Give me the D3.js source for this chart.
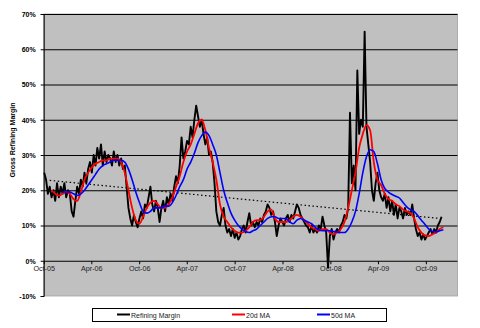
<!DOCTYPE html>
<html><head><meta charset="utf-8">
<script src="https://cdn.jsdelivr.net/npm/d3@7"></script>
<style>
html,body{margin:0;padding:0;background:#fff;}
svg{display:block;font-family:"Liberation Sans",Arial,sans-serif;}
</style></head>
<body>
<svg id="chart" width="480" height="328"></svg>
<script>
// ---- data ----
const marginStart = "2005-10-03";   // weekly observations
const refiningMargin = [
 25,23,19, 21,18,20,17,22,18,21,19,22,18,20, 19,14,12.5, 17,21,19, 23,21,25,22,26,
 28,25,30,27,32, 29,33,27,31,28,30, 29,27,31,28,30,27, 29,26,27, 21,15,12,
 10,13,11,9.5,12, 14,12,16,15,18, 21, 16,14,17,15,11, 15,17,14,18,16, 19,17,21,24,22,
 27,35,29,31,34, 33,38,35,40, 44,41,38, 40,36,33,35,30, 31,28,22, 14,11,10,
 13,15,10,8,9, 7,9,6.5,8,6, 7,9,10,8,11, 13.5,10,11,9.5,11, 10,12,11,13,14,
 16,15,13,14, 11,7,10, 12,11,10,12,13, 11,13,12,14,16, 15,13,12,11,10,
 9.5,8,10,8,9, 8,10,9,12.5,10, 8, -2, 7,9,6,8,9, 8,10,11,13, 12,15, 42, 22,27,20,
 54, 36,40,38, 65, 38,33,28, 20,17,22, 25,20,18, 17,19,15,18,14, 17,13,16,12,15,
 14,12,15,13,14, 13,16,12,9, 7,8,6,7.5,6, 7,8,9,7.5,9, 8,10,11,12.5
];
const ma20Start = "2005-10-31";     // fortnightly readings
const ma20 = [
 20,19,18.5,19,19.5,19,17.5,17,19.5,23,
 25,26.5,27.5,28,28.5,28.5,29,29,29,28,
 25,20,15,11.5,10.5,12.5,15,16.5,17,16,
 15,15,16,18,21,24,28,31,33,36,
 39,40,37,32,28,23,16,12.5,11,9.5,
 8.5,8,8,8.5,9.5,11,11.5,11.5,12.5,14,
 14.5,12,11,11,11,11.5,12.5,13,12.5,11.5,
 10.5,9.5,9,8.5,9,9,8,7.5,8,9,
 11,15,20,25,32,36,38.5,37,28,23,
 21.5,19,17.5,17,16,15.5,14.5,14,13.5,12,
 9.5,8,7.2,7,7.5,8,9,9.5
];
const ma50Start = "2005-12-12";     // fortnightly readings
const ma50 = [
 19.5,19.5,19.5,19,18.5,19,20,21.5,23,24.5,
 26,27,27.5,28,28.5,28.5,28.5,28,26,23,
 19.5,16.5,14,13.5,14,15,15,15,15.5,15.5,
 16.5,18.5,21,23,26,28,30.5,33.5,35.5,36.5,
 35.5,33,30,25,20,16.5,13.5,11.5,10,9,
 8.3,8,8.5,9,10,11,12,12.5,12.5,12,
 12,12,11,10.5,11.5,12,11.5,11,10.5,9.5,
 8.8,8.5,8.6,8.5,8.3,8.2,8,8,9,11,
 14,19,25,29.5,31.5,31,27.5,23,20.5,19.5,
 18.8,18.3,17.8,16.5,15.3,14.5,14,12.8,11.5,10.3,
 9,8.3,8.2,8.5,8.8
];
const trendDates = ["2005-10-24","2009-11-23"];
const trendValues = [22.8, 12.0];
const xTickDates = ["2005-10-01","2006-04-01","2006-10-01","2007-04-01","2007-10-01","2008-04-01","2008-10-01","2009-04-01","2009-10-01"];
const yTicks = [-10,0,10,20,30,40,50,60,70];
const seriesNames = ["Refining Margin","20d MA","50d MA"];
const seriesColors = ["#000000","#ff0000","#0000ff"];
const yTitle = "Gross Refining Margin";

// ---- build ----
const parse = d3.timeParse("%Y-%m-%d");
function weekly(start, arr, stepDays){
  const s = parse(start);
  return arr.map((v,i)=>({date:d3.timeDay.offset(s, i*stepDays), v}));
}
const dMargin = weekly(marginStart, refiningMargin, 7);
const d20 = weekly(ma20Start, ma20, 14);
const d50 = weekly(ma50Start, ma50, 14);
const dTrend = trendDates.map((d,i)=>({date:parse(d), v:trendValues[i]}));

const L=43.7, R=457.5, T=14, B=296;
const svg = d3.select("#chart");
const x = d3.scaleTime().domain([parse("2005-10-01"), parse("2010-01-30")]).range([L,R]);
const y = d3.scaleLinear().domain([-10,70]).range([B,T]);

svg.append("rect").attr("x",L).attr("y",T).attr("width",R-L).attr("height",B-T)
  .attr("fill","#c0c0c0").attr("stroke","#a0a0a0").attr("stroke-width",0.8);

// gridlines
svg.append("g").selectAll("line").data(yTicks.filter(t=>t>-10)).join("line")
  .attr("x1",L).attr("x2",R).attr("y1",d=>y(d)+0.5).attr("y2",d=>y(d)+0.5)
  .attr("stroke","#000").attr("stroke-width",1);

// y axis
const yAxis = svg.append("g").attr("transform",`translate(${L},0)`)
  .call(d3.axisLeft(y).tickValues(yTicks).tickSize(3).tickFormat(d=>d+"%"));
yAxis.select(".domain").attr("stroke","#000");
yAxis.selectAll("line").attr("stroke","#000");
yAxis.selectAll("text").attr("font-size",7).attr("font-weight","bold").attr("fill","#000").attr("dx",-2);

// x axis on the 0% line
const xAxis = svg.append("g").attr("transform",`translate(0,${y(0)+0.5})`)
  .call(d3.axisBottom(x).tickValues(xTickDates.map(parse)).tickSize(3).tickSizeOuter(0).tickFormat(d3.timeFormat("%b-%y")));
xAxis.select(".domain").remove();
xAxis.selectAll("line").attr("stroke","#000");
xAxis.selectAll("text").attr("font-size",7.2).attr("fill","#222").attr("dy","0.55em");

// trend
const line = d3.line().x(d=>x(d.date)).y(d=>y(d.v));
svg.append("path").datum(dTrend).attr("d",line).attr("fill","none")
  .attr("stroke","#000").attr("stroke-width",1.2).attr("stroke-dasharray","1.5,2.5");

svg.append("path").datum(dMargin).attr("d",line).attr("fill","none")
  .attr("stroke",seriesColors[0]).attr("stroke-width",1.9).attr("stroke-linejoin","round");
const smooth = d3.line().x(d=>x(d.date)).y(d=>y(d.v)).curve(d3.curveMonotoneX);
svg.append("path").datum(d20).attr("d",smooth).attr("fill","none")
  .attr("stroke",seriesColors[1]).attr("stroke-width",1.8);
svg.append("path").datum(d50).attr("d",smooth).attr("fill","none")
  .attr("stroke",seriesColors[2]).attr("stroke-width",1.6);

// y title
svg.append("text").attr("transform","translate(15,140) rotate(-90)")
  .attr("text-anchor","middle").attr("font-size",7).attr("font-weight","bold").text(yTitle);

// legend
svg.append("rect").attr("x",92.5).attr("y",308.5).attr("width",294).attr("height",13)
  .attr("fill","#fff").attr("stroke","#000").attr("stroke-width",1);
const legX = [117,232,317];
seriesNames.forEach((n,i)=>{
  svg.append("line").attr("x1",legX[i]).attr("x2",legX[i]+13).attr("y1",314.5).attr("y2",314.5)
    .attr("stroke",seriesColors[i]).attr("stroke-width",2);
  svg.append("text").attr("x",legX[i]+14).attr("y",317.5).attr("font-size",7).attr("fill","#222").text(n);
});
</script>
</body></html>
